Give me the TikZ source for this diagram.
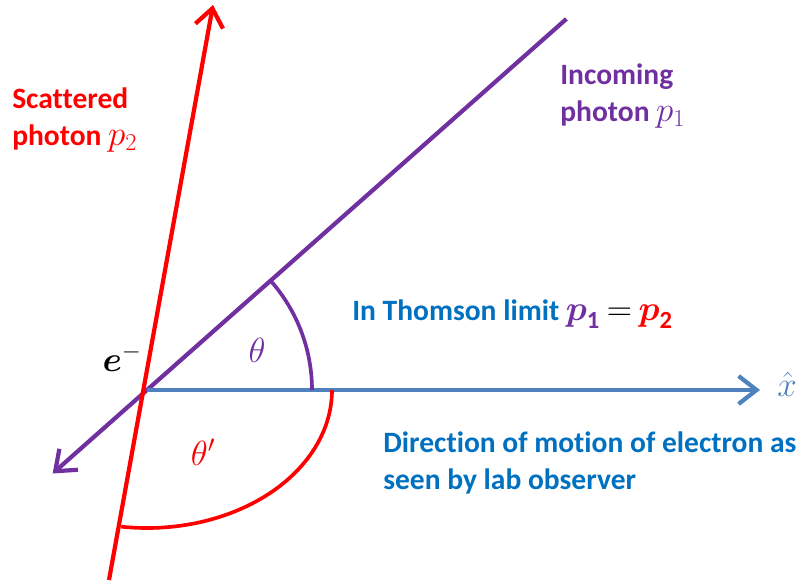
\documentclass[tikz,border=0pt]{standalone}
\usepackage{amsmath,amssymb}
\usepackage{fontspec}
\setmainfont{Carlito}[Ligatures=NoCommon]
\usepackage{tikz}
\usetikzlibrary{arrows.meta,positioning,calc}
\definecolor{incoming}{HTML}{7030A0}
\definecolor{scattered}{HTML}{FF0000}
\definecolor{axisblue}{HTML}{4F81BD}
\definecolor{noteblue}{HTML}{0070C0}
\newcommand{\mom}[1]{{\fontsize{25}{26}\selectfont$p_{#1}$}}
\newcommand{\bmom}[1]{{\fontsize{25}{26}\selectfont$\boldsymbol{p}_{\mathbf{#1}}$}}
\tikzset{
  ray/.style={line width=3pt},
  angarc/.style={line width=2.6pt},
  barb/.style={-{Straight Barb[length=4.5mm,width=7mm]}},
  lbl/.style={font=\fontsize{21}{26}\selectfont\bfseries,align=left,inner sep=0pt},
  sym/.style={font=\fontsize{27}{30}\selectfont,inner sep=0pt}
}

\begin{document}
\begin{tikzpicture}[x=0.025cm,y=0.025cm]
  \useasboundingbox (-147,-196) rectangle (655,390);
  % electron and ray ends
  \coordinate (e) at (0,0);
  \coordinate (inTop) at (41.5:560);
  \coordinate (inTip) at (221.5:126);
  \coordinate (xTip) at (613,0);
  \coordinate (outTip) at (66,385);
  \coordinate (outEnd) at (-38,-190);
  % rays
  \draw[ray,incoming,barb] (inTop) -- (inTip);
  \draw[ray,axisblue,barb] (e) -- (xTip);
  \draw[ray,scattered,barb] (outEnd) -- (outTip);
  % angles
  \draw[angarc,incoming] (165,0) arc[start angle=0,end angle=41.5,radius=165];
  \draw[angarc,scattered] (185,0) arc[start angle=0,end angle=-98,x radius=185,y radius=138];
  \node[sym,text=incoming] (th) at (110,40) {$\theta$};
  \node[sym,text=scattered] (thp) at (56,-62) {$\theta'$};
  \node[sym] (el) at (-25,32) {$\boldsymbol{e}^-$};
  \node[sym,text=axisblue,anchor=west] (xh) at (630,6) {$\hat{x}$};
  % labels
  \node[lbl,text=scattered,anchor=west] (outLbl) at (-135,270) {Scattered\\photon \mom{2}};
  \node[lbl,text=incoming,anchor=west] (inLbl) at (413,294) {Incoming\\photon \mom{1}};
  \node[lbl,text=noteblue,anchor=base west] (thom) at (205,70)
    {In Thomson limit \textcolor{incoming}{\bmom{1}} \textcolor{black}{\fontsize{25}{26}\selectfont$=$} \textcolor{scattered}{\bmom{2}}};
  \node[lbl,text=noteblue,anchor=west] (dir) at (236,-73) {Direction of motion of electron as\\seen by lab observer};
\end{tikzpicture}
\end{document}
